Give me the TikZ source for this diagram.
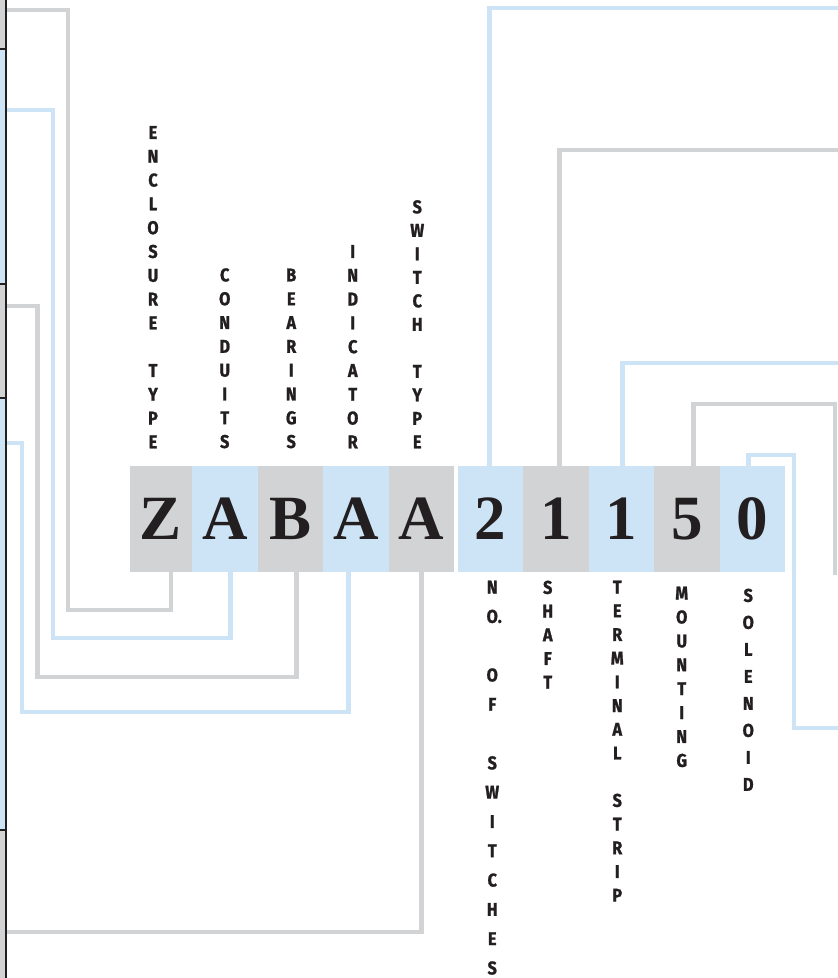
\documentclass[tikz,border=0pt]{standalone}
\usepackage{fontspec}
\setmainfont{Liberation Serif}
\newfontfamily\capsfont[FakeStretch=0.88, FakeBold=1.2]{Fira Sans}
\usetikzlibrary{positioning}
\definecolor{codegray}{HTML}{D1D3D4}
\definecolor{codeblue}{HTML}{CCE4F6}
\definecolor{inkdark}{HTML}{231F20}

\begin{document}
\begin{tikzpicture}[x=1pt, y=-1pt]
  \tikzset{digit/.style={minimum width=65.5pt, minimum height=106pt, inner sep=0pt,
                         outer sep=0pt, text=inkdark,
                         font=\fontsize{63}{63}\selectfont\bfseries},
           graybox/.style={digit, fill=codegray},
           bluebox/.style={digit, fill=codeblue},
           wire/.style={line width=4.8pt, line join=miter},
           graywire/.style={wire, draw=codegray},
           bluewire/.style={wire, draw=codeblue},
           codelabel/.style={align=center, inner sep=0pt, text=inkdark,
                             font=\capsfont\bfseries\fontsize{18.5}{#1}\selectfont},
           codelabel/.default=23.8,
           edgestrip/.style={draw=inkdark, line width=2pt}}
  \useasboundingbox (0,0) rectangle (838,978);
  \clip (0,0) rectangle (838,978);

  % the code boxes
  \node[graybox, minimum width=62pt] (z) at (161,519) {Z};
  \node[bluebox, right=0pt of z]  (a1) {A};
  \node[graybox, right=0pt of a1] (b)  {B};
  \node[bluebox, right=0pt of b]  (a2) {A};
  \node[graybox, right=0pt of a2] (a3) {A};
  \node[bluebox, right=3.5pt of a3] (n2) {2};
  \node[graybox, right=0pt of n2] (n1) {1};
  \node[bluebox, right=0pt of n1] (t1) {1};
  \node[graybox, right=0pt of t1] (m5) {5};
  \node[bluebox, right=0pt of m5] (s0) {0};

  % labels
  \node[codelabel, above=17.5pt of z, xshift=-8pt] (enclosure)
       {E\\N\\C\\L\\O\\S\\U\\R\\E\\~\\T\\Y\\P\\E};
  \node[codelabel, above=17.5pt of a1] (conduits) {C\\O\\N\\D\\U\\I\\T\\S};
  \node[codelabel, above=17.5pt of b, xshift=1pt] (bearings) {B\\E\\A\\R\\I\\N\\G\\S};
  \node[codelabel, above=17.5pt of a2, xshift=-3pt] (indicator) {I\\N\\D\\I\\C\\A\\T\\O\\R};
  \node[codelabel=23.5, above=17.5pt of a3, xshift=-4pt] (switchtype)
       {S\\W\\I\\T\\C\\H\\~\\T\\Y\\P\\E};
  \node[codelabel=29.3, below=8.5pt of n2, xshift=2pt] (numswitches)
       {N\\O\rlap{.}\\~\\O\\F\\~\\S\\W\\I\\T\\C\\H\\E\\S};
  \node[codelabel=23.7, below=8.5pt of n1, xshift=-8pt] (shaft) {S\\H\\A\\F\\T};
  \node[codelabel=23.7, below=8.5pt of t1, xshift=-4pt] (terminal)
       {T\\E\\R\\M\\I\\N\\A\\L\\~\\S\\T\\R\\I\\P};
  \node[codelabel=23.9, below=14.5pt of m5, xshift=-5pt] (mounting) {M\\O\\U\\N\\T\\I\\N\\G};
  \node[codelabel=27, below=16.5pt of s0, xshift=-4pt] (solenoid) {S\\O\\L\\E\\N\\O\\I\\D};

  % wire ends
  \coordinate (zend)  at (6,10);
  \coordinate (a1end) at (6,110);
  \coordinate (bend)  at (6,306);
  \coordinate (a2end) at (6,443);
  \coordinate (a3end) at (6,932);
  \coordinate (n2end) at (845,8);
  \coordinate (n1end) at (845,150);
  \coordinate (t1end) at (845,363);
  \coordinate (m5end) at (835,575);
  \coordinate (s0end) at (845,728);

  % wires
  \draw[graywire] ([xshift=10pt]z.south) |- (68,610) |- (zend);
  \draw[bluewire] ([xshift=6pt]a1.south) |- (53,638) |- (a1end);
  \draw[graywire] ([xshift=6pt]b.south) |- (37.5,677) |- (bend);
  \draw[bluewire] ([xshift=-7pt]a2.south) |- (22,712) |- (a2end);
  \draw[graywire] (a3.south) |- (a3end);
  \draw[bluewire] ([xshift=-1pt]n2.north) |- (n2end);
  \draw[graywire] ([xshift=4pt]n1.north) |- (n1end);
  \draw[bluewire] ([xshift=1pt]t1.north) |- (t1end);
  \draw[graywire] ([xshift=7pt]m5.north) |- (835,404) -- (m5end);
  \draw[bluewire] ([xshift=-4pt]s0.north) |- (794,455) |- (s0end);

  % strips cut off at the left edge
  \draw[edgestrip, fill=codegray] (-10,-10) rectangle (6,49);
  \draw[edgestrip, fill=codeblue] (-10,49) rectangle (6,284);
  \draw[edgestrip, fill=codegray] (-10,284) rectangle (6,398);
  \draw[edgestrip, fill=codeblue] (-10,398) rectangle (6,830);
  \draw[edgestrip, fill=codegray] (-10,830) rectangle (6,990);
\end{tikzpicture}
\end{document}
